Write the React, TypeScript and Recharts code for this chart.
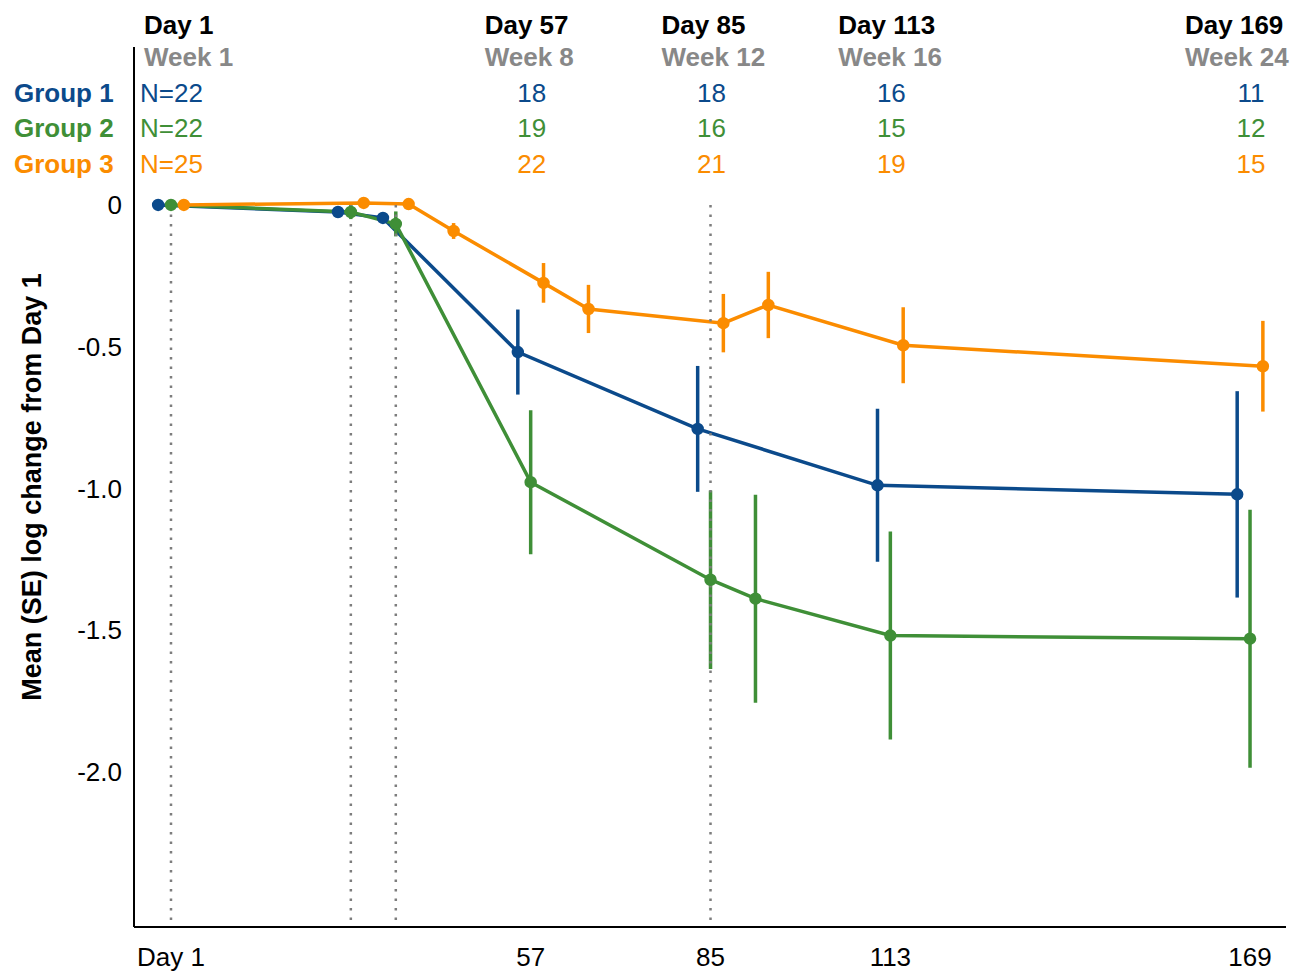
import React from "react";
import { LineChart, Line, XAxis, YAxis, ErrorBar, ReferenceLine, Label } from "recharts";

// visit table shown above the plot
const visitDays = [1, 57, 85, 113, 169];
const dayLabels = ["Day 1", "Day 57", "Day 85", "Day 113", "Day 169"];
const weekLabels = ["Week 1", "Week 8", "Week 12", "Week 16", "Week 24"];
const groupNames = ["Group 1", "Group 2", "Group 3"];
const group1N = [22, 18, 18, 16, 11];
const group2N = [22, 19, 16, 15, 12];
const group3N = [25, 22, 21, 19, 15];

// series (nominal study day, mean log change, SE)
const group1Days = [1, 29, 36, 57, 85, 113, 169];
const group1Mean = [0, -0.025, -0.046, -0.519, -0.79, -0.989, -1.021];
const group1Se = [0, 0.01, 0.015, 0.15, 0.222, 0.27, 0.364];

const group2Days = [1, 29, 36, 57, 85, 92, 113, 169];
const group2Mean = [0, -0.025, -0.067, -0.978, -1.322, -1.389, -1.519, -1.53];
const group2Se = [0, 0.025, 0.044, 0.254, 0.315, 0.367, 0.367, 0.455];

const group3Days = [1, 29, 36, 43, 57, 64, 85, 92, 113, 169];
const group3Mean = [0, 0.007, 0.003, -0.092, -0.275, -0.367, -0.417, -0.353, -0.495, -0.569];
const group3Se = [0, 0.01, 0.01, 0.028, 0.07, 0.085, 0.103, 0.117, 0.134, 0.16];

const dottedDays = [1, 29, 36, 85];
const yTicks = [0, -0.5, -1.0, -1.5, -2.0];

const FONT = '"Liberation Sans", Arial, sans-serif';
const COLORS = ["#0b4a8b", "#3f8f37", "#fb8c00"];
const DODGE = [-2, 0, 2];
const X_DOMAIN: [number, number] = [-4.76, 174.6];
const Y_DOMAIN: [number, number] = [-2.547, 0.557];
const HEADER_DX = [-27, -46, -49, -52, -65];
const ROW_DY = [55, 90, 126];

const build = (days: number[], mean: number[], se: number[], dodge: number) =>
  days.map((d, i) => ({ x: d + dodge, y: mean[i], se: se[i] }));

const series = [
  build(group1Days, group1Mean, group1Se, DODGE[0]),
  build(group2Days, group2Mean, group2Se, DODGE[1]),
  build(group3Days, group3Mean, group3Se, DODGE[2]),
];

function HeaderTick(props: any) {
  const { x, y, payload } = props;
  const i = visitDays.indexOf(payload.value);
  if (i < 0) return null;
  const counts = [group1N, group2N, group3N];
  return (
    <g fontFamily={FONT} fontSize={26}>
      <text x={x + HEADER_DX[i]} y={y - 13} fontWeight="bold" fill="#000">
        {dayLabels[i]}
      </text>
      <text x={x + HEADER_DX[i]} y={y + 19} fontWeight="bold" fill="#888888">
        {weekLabels[i]}
      </text>
      {counts.map((c, g) =>
        i === 0 ? (
          <text key={g} x={x - 31} y={y + ROW_DY[g]} fill={COLORS[g]}>
            N={c[i]}
          </text>
        ) : (
          <text key={g} x={x + 1} y={y + ROW_DY[g]} textAnchor="middle" fill={COLORS[g]}>
            {c[i]}
          </text>
        )
      )}
      {i === 0 &&
        groupNames.map((n, g) => (
          <text key={"n" + g} x={x - 157} y={y + ROW_DY[g]} fontWeight="bold" fill={COLORS[g]}>
            {n}
          </text>
        ))}
    </g>
  );
}

function YLabel(props: any) {
  const vb = props.viewBox || { x: 0, y: 47, width: 134, height: 880 };
  const cx = vb.x + 32;
  const cy = vb.y + vb.height / 2;
  return (
    <text
      x={cx}
      y={cy}
      transform={`rotate(-90 ${cx} ${cy})`}
      textAnchor="middle"
      dominantBaseline="central"
      fontFamily={FONT}
      fontSize={27}
      fontWeight="bold"
      fill="#000"
    >
      Mean (SE) log change from Day 1
    </text>
  );
}

export default function App() {
  return (
    <div
      style={{
        position: "absolute",
        left: 0,
        top: 0,
        width: 1294,
        height: 971,
        background: "#fff",
        fontFamily: FONT,
      }}
    >
      <LineChart width={1294} height={971} margin={{ top: 17, right: 8, bottom: 0, left: 0 }}>
        <XAxis
          xAxisId="top"
          orientation="top"
          type="number"
          dataKey="x"
          domain={X_DOMAIN}
          allowDataOverflow
          ticks={visitDays}
          tick={<HeaderTick />}
          axisLine={false}
          tickLine={false}
          tickSize={0}
          tickMargin={0}
          height={30}
          interval={0}
        />
        <XAxis
          type="number"
          dataKey="x"
          domain={X_DOMAIN}
          allowDataOverflow
          ticks={visitDays}
          interval={0}
          tickFormatter={(v: number) => (v === 1 ? "Day 1" : String(v))}
          tick={{ fill: "#000", fontSize: 26, fontFamily: FONT }}
          axisLine={{ stroke: "#000", strokeWidth: 2 }}
          tickLine={false}
          tickSize={6}
          tickMargin={15}
          height={44}
        />
        <YAxis
          type="number"
          domain={Y_DOMAIN}
          allowDataOverflow
          ticks={yTicks}
          interval={0}
          tickFormatter={(v: number) => (v === 0 ? "0" : v.toFixed(1))}
          tick={{ fill: "#000", fontSize: 26, fontFamily: FONT }}
          axisLine={{ stroke: "#000", strokeWidth: 2 }}
          tickLine={false}
          tickSize={6}
          tickMargin={6}
          width={134}
        >
          <Label content={<YLabel />} />
        </YAxis>
        {series.map((data, g) => (
          <Line
            key={g}
            data={data}
            dataKey="y"
            type="linear"
            stroke={COLORS[g]}
            strokeWidth={3.5}
            dot={{ r: 5, fill: COLORS[g], stroke: COLORS[g], strokeWidth: 2.5 }}
            activeDot={false}
            isAnimationActive={false}
          >
            <ErrorBar dataKey="se" direction="y" width={0} stroke={COLORS[g]} strokeWidth={3.5} />
          </Line>
        ))}
        {dottedDays.map((d) => (
          <ReferenceLine
            key={d}
            segment={[
              { x: d, y: 0 },
              { x: d, y: Y_DOMAIN[0] },
            ]}
            stroke="#7d7d7d"
            strokeWidth={2.5}
            strokeDasharray="2.5 7"
          />
        ))}
      </LineChart>
    </div>
  );
}
